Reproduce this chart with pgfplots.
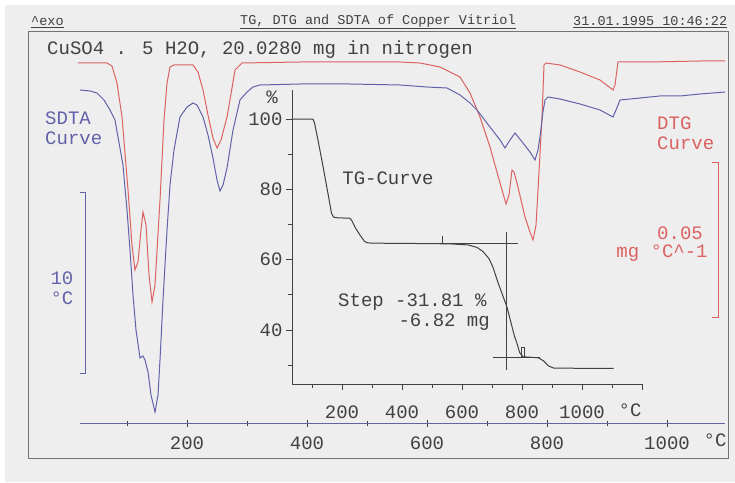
\documentclass[border=0pt]{standalone}
\usepackage{pgfplots}
\pgfplotsset{compat=1.18}
\usepackage{fontspec}
\setmainfont{Liberation Mono}
\definecolor{bgc}{RGB}{238,238,238}
\definecolor{dtg}{RGB}{220,98,98}
\definecolor{sdta}{RGB}{98,98,170}
\definecolor{ink}{RGB}{65,65,65}
\newcommand\fbig{\fontsize{19}{21}\selectfont}
\newcommand\fsmall{\fontsize{13.5}{15}\selectfont}
\begin{document}
\begin{tikzpicture}[x=1pt,y=1pt]
\fill[white] (0,0) rectangle (735,482);
\fill[bgc] (5,0) rectangle (735,477);
% ---------------- main thermogram (DTG + SDTA) ----------------
\begin{axis}[at={(28pt,24pt)}, anchor=south west, scale only axis,
  width=700pt, height=427pt,
  xmin=-65, xmax=1101.67, ymin=24, ymax=451,
  xtick=\empty, ytick=\empty,
  axis line style={draw=black!55, line width=0.9pt}, clip=false]
% DTG (red), x = temperature in degC, y = arbitrary signal
\addplot[dtg, line width=1pt] coordinates {
(18.3,419)(66.7,419)(75,416)(83.3,399)(91.7,365)(101.7,292)(108.3,237)(113.3,212)
(118.3,220)(123.3,252)(126.7,270)(131.7,257)(136.7,207)(141.7,180)(146.7,197)
(155,282)(161.7,362)(166.7,399)(171.7,415)(178.3,417)(210,417)(218.3,410)
(226.7,392)(235,367)(243.3,344)(250,334)(256.7,342)(266.7,365)(275,394)
(280,412)(291.7,419)(388.3,420)(555,420)(588.3,419)(621.7,415)(655,405)
(671.7,389)(688.3,365)(705,335)(721.7,299)(731.7,278)(736.7,287)(741.7,312)
(745,310)(750,299)(763.3,265)(771.7,250)(776.7,242)(781.7,257)(785,292)
(791.7,365)(795,417)(798.3,419)(821.7,417)(855,410)(888.3,402)(910,392)
(913.3,397)(918.3,420)(971.7,420)(1055,421)(1096.7,421)};
% SDTA (blue)
\addplot[sdta, line width=1pt] coordinates {
(21.7,392)(38.3,391)(50,389)(61.7,382)(71.7,372)(80,362)(85,345)(93.3,317)
(100,272)(105,232)(110,187)(115,152)(121.7,124)(126.7,126)(130,122)(135,110)
(140,87)(146.7,70)(151.7,87)(155,122)(160,182)(166.7,252)(171.7,297)
(178.3,332)(188.3,365)(200,375)(210,379)(216.7,377)(226.7,365)(235,347)
(243.3,324)(250,302)(255,291)(260,297)(266.7,314)(276.7,352)(288.3,382)
(300,390)(310,395)(321.7,397)(388.3,398)(471.7,398)(555,397)(600,395)
(633.3,394)(655,387)(671.7,379)(683.3,372)(705,355)(721.7,342)(730,334)
(738.3,342)(746.7,349)(753.3,344)(760,339)(771.7,330)(780,322)(785,332)
(788.3,345)(793.3,370)(796.7,382)(801.7,385)(821.7,383)(855,378)(888.3,372)
(910,365)(915,372)(921.7,382)(955,384)(988.3,386)(1021.7,386)(1055,388)
(1096.7,390)};
\end{axis}
% scale bars
\draw[sdta, line width=1pt] (80,289)--(85,289)--(85,109)--(80,109);
\draw[dtg, line width=1pt] (712,319)--(718,319)--(718,165)--(712,165);
% ---------------- bottom temperature scale ----------------
\begin{axis}[at={(80pt,59pt)}, anchor=south west, scale only axis,
  width=645pt, height=5pt,
  xmin=21.67, xmax=1096.67, ymin=0, ymax=1,
  axis x line=bottom, axis y line=none,
  x axis line style={-, draw=sdta, line width=1pt},
  xtick={200,400,...,1000}, minor xtick={100,300,...,900},
  tick align=center, major tick length=7pt, minor tick length=5pt,
  tick style={draw=ink, line width=0.8pt},
  /pgf/number format/assume math mode=true,
  /pgf/number format/1000 sep={},
  xticklabel style={font=\fbig, text=ink, anchor=base, yshift=-23pt}]
\end{axis}
% ---------------- inset TG ----------------
\begin{axis}[at={(292pt,98pt)}, anchor=south west, scale only axis,
  width=350pt, height=294pt,
  xmin=33.33, xmax=1200, ymin=24.65, ymax=108.25,
  axis x line=bottom, axis y line=left,
  axis line style={-, draw=ink, line width=1pt},
  xtick={200,400,...,1200}, xticklabels={200,400,600,800,1000,},
  minor xtick={100,300,...,1100},
  ytick={40,60,80,100}, minor ytick={30,50,70,90},
  tick align=outside, major tick length=6pt, minor tick length=4pt,
  tick style={draw=ink, line width=0.8pt},
  /pgf/number format/assume math mode=true,
  /pgf/number format/1000 sep={},
  xticklabel style={font=\fbig, text=ink, anchor=base, yshift=-28pt},
  yticklabel style={font=\fbig, text=ink},
  clip=false]
\addplot[ink, line width=1pt] coordinates {
(33,100)(103,100)(108,99)(120,94)(137,86.4)(155,78)(165,73.2)(172,72.1)
(185,71.9)(225,71.8)(232,71.2)(245,69)(260,67)(275,65.2)(285,64.8)(300,64.7)
(450,64.6)(560,64.5)(620,64.2)(650,63.5)(670,62.3)(690,60.3)(703,57.9)
(720,53.5)(735,50)(750,46.5)(765,41.5)(775,38.2)(783,36.3)(792,33.6)
(803,32.4)(820,32.3)(855,32.1)(872,31.2)(888,29.8)(905,29.2)(1000,29.1)(1105,29.1)};
% step evaluation marks
\draw[ink, line width=0.8pt] (axis cs:527,64.7)--(axis cs:787,64.7);
\draw[ink, line width=0.8pt] (axis cs:533,64.7)--(axis cs:533,66.8);
\draw[ink, line width=0.8pt] (axis cs:747,67.9)--(axis cs:747,28.6);
\draw[ink, line width=0.8pt] (axis cs:703,32.3)--(axis cs:860,32.3);
\draw[ink, line width=0.8pt] (axis cs:797,32.3)--(axis cs:797,35)--(axis cs:809,35)--(axis cs:809,32.3);
\end{axis}
% ---------------- texts ----------------
\node[anchor=west, font=\fsmall, text=ink, inner sep=0] at (31,460) {\underline{\textasciicircum exo}};
\node[anchor=west, font=\fsmall, text=ink, inner sep=0] at (240,460) {\underline{TG, DTG and SDTA of Copper Vitriol}};
\node[anchor=west, font=\fsmall, text=ink, inner sep=0] at (573,460) {\underline{31.01.1995 10:46:22}};
\node[anchor=west, font=\fbig, text=ink, inner sep=0] at (47,432) {CuSO4 . 5 H2O, 20.0280 mg in nitrogen};
\node[anchor=west, font=\fbig, text=sdta, inner sep=0] at (45,364) {SDTA};
\node[anchor=west, font=\fbig, text=sdta, inner sep=0] at (45,344) {Curve};
\node[font=\fbig, text=sdta, inner sep=0] at (62,204) {10};
\node[font=\fbig, text=sdta, inner sep=0] at (62,184) {°C};
\node[anchor=west, font=\fbig, text=dtg, inner sep=0] at (657,359) {DTG};
\node[anchor=west, font=\fbig, text=dtg, inner sep=0] at (657,339) {Curve};
\node[font=\fbig, text=dtg, inner sep=0] at (680,249) {0.05};
\node[font=\fbig, text=dtg, inner sep=0] at (662,229) {mg °C\textasciicircum -1};
\node[font=\fbig, text=ink, inner sep=0] at (715,42) {°C};
\node[font=\fbig, text=ink, inner sep=0] at (630,72) {°C};
\node[font=\fbig, text=ink, inner sep=0] at (272,385) {\%};
\node[font=\fbig, text=ink, inner sep=0] at (388,304) {TG-Curve};
\node[anchor=west, font=\fbig, text=ink, inner sep=0] at (338,180) {Step -31.81 \%};
\node[anchor=east, font=\fbig, text=ink, inner sep=0] at (490,160) {-6.82 mg};
\end{tikzpicture}
\end{document}
